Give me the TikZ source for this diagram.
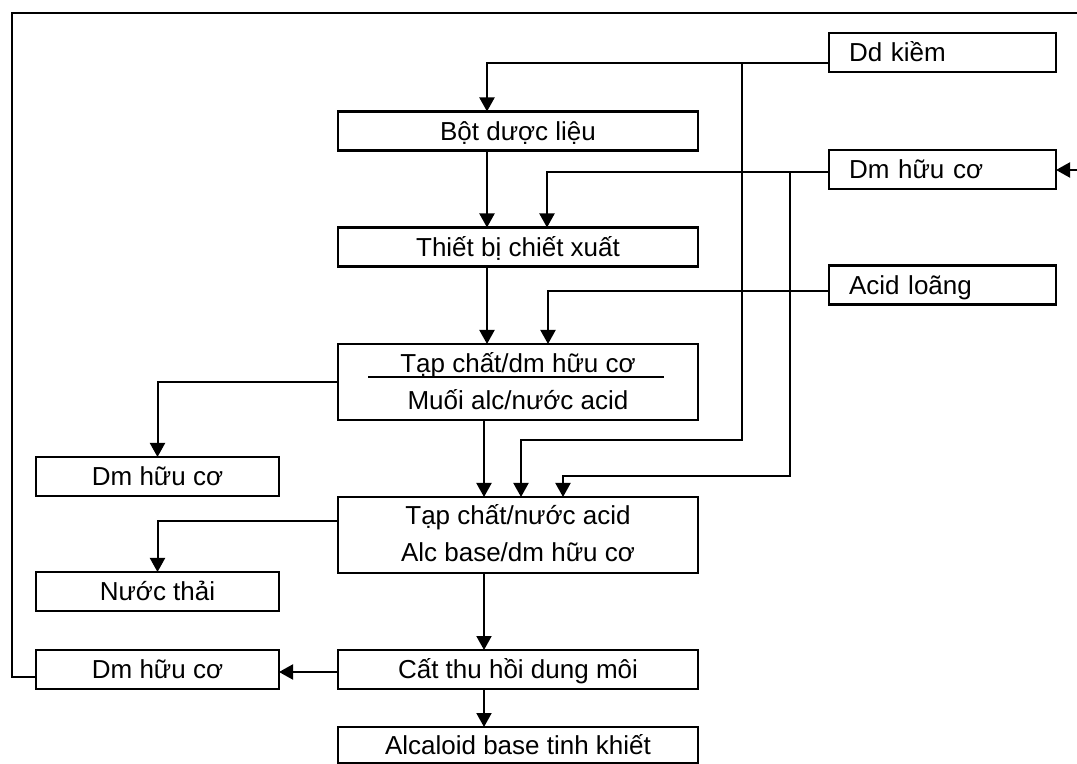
\documentclass[tikz,border=0pt]{standalone}
\usepackage{fontspec}
\setmainfont{Liberation Sans}
\usetikzlibrary{arrows.meta,calc}
\begin{document}
\begin{tikzpicture}[x=0.5pt,y=-0.5pt,
  box/.style={draw, line width=1.2pt, inner sep=0pt, outer sep=0pt,
    minimum height=19.5pt, font=\fontsize{13}{15}\selectfont,
    text height=9.3pt, text depth=0pt},
  widebox/.style={box, minimum width=180pt},
  leftbox/.style={box, minimum width=121.5pt},
  sidebox/.style={box, text width=93.5pt, inner xsep=10pt, align=left},
  twobox/.style={box, minimum width=180pt, minimum height=38pt},
  lbl/.style={inner sep=0pt, font=\fontsize{13}{15}\selectfont},
  conn/.style={line width=1pt},
  arr/.style={conn, -{Triangle[length=7pt,width=7.5pt]}}]
\useasboundingbox (0,0) rectangle (1077,764);

% supply boxes on the right
\node[sidebox] (dd)   at (942.5,52.5) {Dd kiềm};
\node[sidebox] (dmA)  at (942.5,169.5) {Dm hữu cơ};
\node[sidebox] (acid) at (942.5,285) {Acid loãng};

% main process chain
\node[widebox] (bot) at (518,131) {Bột dược liệu};
\node[widebox] (tb)  at (518,247) {Thiết bị chiết xuất};
\node[twobox]  (tc1) at (518,382) {};
\node[lbl, anchor=base] (tc1a) at (518,373) {Tạp chất/dm hữu cơ};
\node[lbl, anchor=base] (tc1b) at (518,410) {Muối alc/nước acid};
\node[twobox]  (tc2) at (518,535) {};
\node[lbl, anchor=base] (tc2a) at (518,525) {Tạp chất/nước acid};
\node[lbl, anchor=base] (tc2b) at (518,562) {Alc base/dm hữu cơ};
\node[widebox] (cat) at (518,669.5) {Cất thu hồi dung môi};
\node[widebox, minimum height=18pt] (alc) at (518,745) {Alcaloid base tinh khiết};

% side outputs on the left
\node[leftbox] (dmB) at (157.5,476.5) {Dm hữu cơ};
\node[leftbox] (nt)  at (157.5,591.5) {Nước thải};
\node[leftbox] (dmC) at (157.5,669.5) {Dm hữu cơ};

% phase separator inside the first separation box
\draw[conn] ($(tc1.center)+(-150,-5)$) -- ($(tc1.center)+(146,-5)$);

% main flow
\draw[arr] ([xshift=-15.5pt]bot.south) -- ([xshift=-15.5pt]tb.north);
\draw[arr] ([xshift=-15.5pt]tb.south) -- ([xshift=-15.5pt]tc1.north);
\draw[arr] ([xshift=-17pt]tc1.south) -- ([xshift=-17pt]tc2.north);
\draw[arr] ([xshift=-17pt]tc2.south) -- ([xshift=-17pt]cat.north);
\draw[arr] ([xshift=-17pt]cat.south) -- ([xshift=-17pt]alc.north);

% alkali feed
\draw[arr] ([yshift=-5.25pt]dd.west) -- ++(-87,0) coordinate (jdd)
  -| ([xshift=-15.5pt]bot.north);
\draw[arr] (jdd) -- ++(0,377) -| ([xshift=1.5pt]tc2.north);

% organic solvent feed
\draw[arr] ([yshift=-1.25pt]dmA.west) -- ++(-39,0) coordinate (jdm)
  -| ([xshift=14.5pt]tb.north);
\draw[arr] (jdm) -- ++(0,304) -| ([xshift=22.5pt]tc2.north);

% dilute acid feed
\draw[arr] ([yshift=-3pt]acid.west) -| ([xshift=15pt]tc1.north);

% outputs to the left
\draw[arr] (tc1.west) -| (dmB.north);
\draw[arr] ([yshift=7pt]tc2.west) -| (nt.north);
\draw[arr] ([yshift=-1.25pt]cat.west) -- ([yshift=-1.25pt]dmC.east);

% solvent recycle loop
\coordinate (topL) at (12,13);
\coordinate (topR) at (1077,13);
\coordinate (inR) at (1077,170);
\draw[conn] ([yshift=-3.75pt]dmC.west) -| (topL) -- (topR);
\draw[arr] (inR) -- (inR -| dmA.east);
\end{tikzpicture}
\end{document}
